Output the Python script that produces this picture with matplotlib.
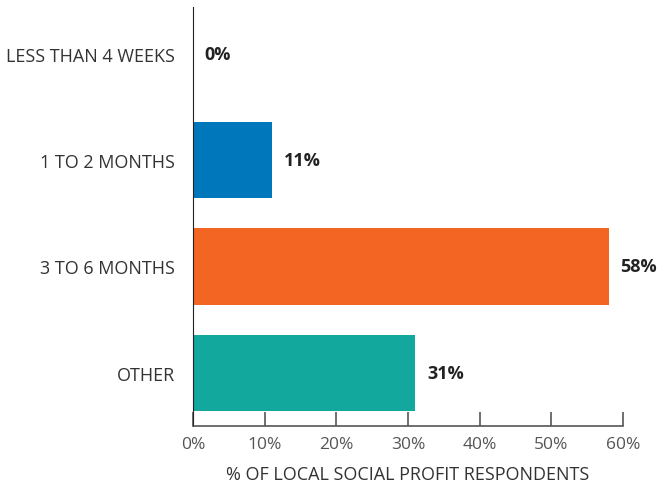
import matplotlib
matplotlib.use("Agg")
import matplotlib.pyplot as plt

categories = ["LESS THAN 4 WEEKS", "1 TO 2 MONTHS", "3 TO 6 MONTHS", "OTHER"]
values = [0, 11, 58, 31]
colors = ["#0077bb", "#0077bb", "#f26522", "#12a89d"]
ticks = [0, 10, 20, 30, 40, 50, 60]
tick_labels = [f"{t}%" for t in ticks]

plt.rcParams["font.family"] = ["Open Sans", "DejaVu Sans"]

fig = plt.figure(figsize=(6.59, 4.85), dpi=100)
ax = fig.add_axes([193 / 659, 1 - 427 / 485, 430 / 659, 419 / 485])

y = list(range(len(categories)))
ax.barh(y, values, height=0.72, color=colors)

for yi, v in zip(y, values):
    ax.annotate(f"{v}%", (v, yi), xytext=(8.5, 0), textcoords="offset points",
                va="center", ha="left", fontsize=13, fontweight="bold", color="#222222")

ax.set_ylim(3.5, -0.44)
ax.set_xlim(0, 60)
ax.set_yticks(y)
ax.set_yticklabels(categories, fontsize=13, color="#333333")
ax.tick_params(axis="y", length=0, pad=13)
ax.set_xticks(ticks)
ax.set_xticklabels(tick_labels, fontsize=12.5, color="#555555")
ax.tick_params(axis="x", direction="in", length=10, color="#555555", width=1.2, pad=7.5)

for side in ["top", "right"]:
    ax.spines[side].set_visible(False)
ax.spines["left"].set_color("#222222")
ax.spines["bottom"].set_color("#555555")
ax.spines["bottom"].set_linewidth(1.2)

ax.set_xlabel("% OF LOCAL SOCIAL PROFIT RESPONDENTS", fontsize=13, color="#333333", labelpad=9)

fig.savefig("out.png", dpi=100)
